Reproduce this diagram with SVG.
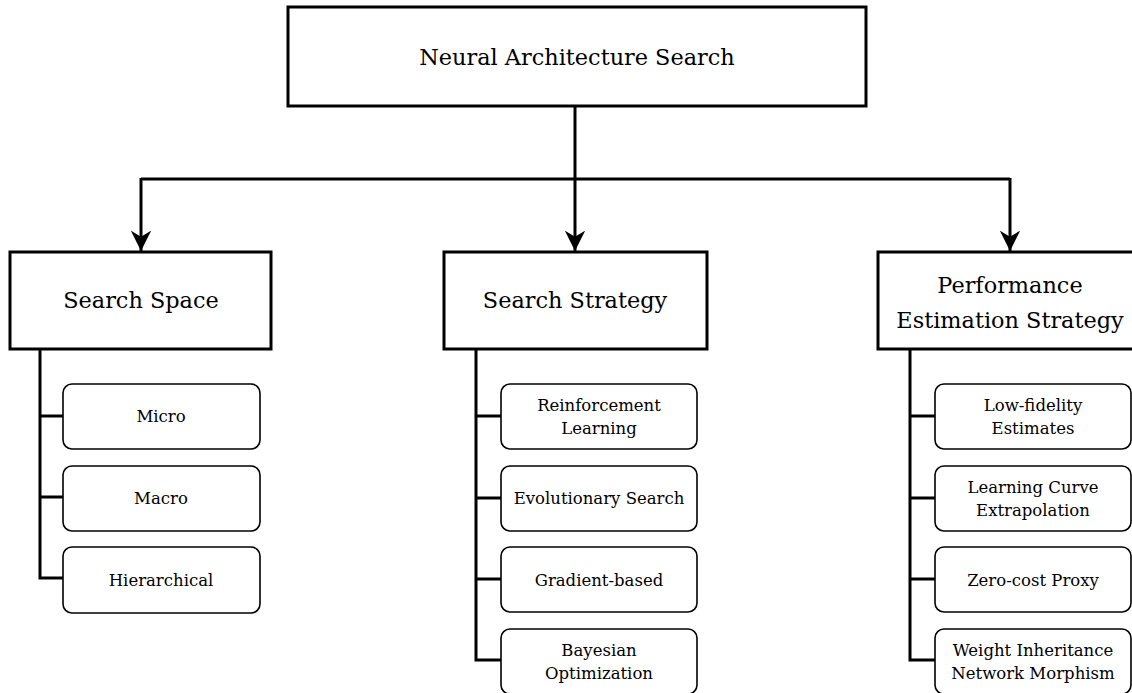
<svg xmlns="http://www.w3.org/2000/svg" width="1132" height="693" viewBox="0 0 1132 693">
<style>
.main{fill:#fff;stroke:#000;stroke-width:3}
.sub{fill:#fff;stroke:#000;stroke-width:1.6}
.conn{fill:none;stroke:#000;stroke-width:3}
text{font-family:"DejaVu Serif","Liberation Serif",serif;fill:#000;text-anchor:middle}
.t1{font-size:22.4px}
.t2{font-size:16.5px}
</style>
<defs>
<marker id="arr" viewBox="0 0 10 10" refX="10" refY="5" markerWidth="6.8" markerHeight="6.8" orient="auto" markerUnits="strokeWidth">
<path d="M0,0 L10,5 L0,10 L3,5 z" fill="#000"/>
</marker>
</defs>
<rect width="1132" height="693" fill="#fff"/>
<g id="connectors">
<path class="conn" d="M575,106 V179"/>
<path class="conn" d="M141,179 H1010"/>
<path class="conn" d="M141,178 V251" marker-end="url(#arr)"/>
<path class="conn" d="M575,179 V251" marker-end="url(#arr)"/>
<path class="conn" d="M1010,178 V251" marker-end="url(#arr)"/>
<path class="conn" d="M40,349 V578 H63 M40,416 H63 M40,497 H63"/>
<path class="conn" d="M476,349 V660 H501 M476,416 H501 M476,498 H501 M476,579 H501"/>
<path class="conn" d="M910,349 V660 H935 M910,416 H935 M910,498 H935 M910,579 H935"/>
</g>
<g id="nas">
<rect class="main" x="288" y="7" width="578" height="99"/>
<text class="t1" x="577" y="65">Neural Architecture Search</text>
</g>
<g id="search-space">
<rect class="main" x="10" y="252" width="261" height="97"/>
<text class="t1" x="141" y="308">Search Space</text>
</g>
<g id="search-strategy">
<rect class="main" x="444" y="252" width="263" height="97"/>
<text class="t1" x="575" y="308">Search Strategy</text>
</g>
<g id="performance">
<rect class="main" x="878" y="252" width="270" height="97"/>
<text class="t1" x="1010" y="293">Performance</text>
<text class="t1" x="1010" y="328">Estimation Strategy</text>
</g>
<g id="micro">
<rect class="sub" x="63" y="384" width="197" height="65" rx="9"/>
<text class="t2" x="161" y="422">Micro</text>
</g>
<g id="macro">
<rect class="sub" x="63" y="466" width="197" height="65" rx="9"/>
<text class="t2" x="161" y="504">Macro</text>
</g>
<g id="hierarchical">
<rect class="sub" x="63" y="547" width="197" height="66" rx="9"/>
<text class="t2" x="161" y="586">Hierarchical</text>
</g>
<g id="rl">
<rect class="sub" x="501" y="384" width="196" height="65" rx="9"/>
<text class="t2" x="599" y="411">Reinforcement</text>
<text class="t2" x="599" y="434">Learning</text>
</g>
<g id="evolutionary">
<rect class="sub" x="501" y="466" width="196" height="65" rx="9"/>
<text class="t2" x="599" y="504">Evolutionary Search</text>
</g>
<g id="gradient">
<rect class="sub" x="501" y="547" width="196" height="65" rx="9"/>
<text class="t2" x="599" y="586">Gradient-based</text>
</g>
<g id="bayesian">
<rect class="sub" x="501" y="629" width="196" height="65" rx="9"/>
<text class="t2" x="599" y="656">Bayesian</text>
<text class="t2" x="599" y="679">Optimization</text>
</g>
<g id="low-fidelity">
<rect class="sub" x="935" y="384" width="196" height="65" rx="9"/>
<text class="t2" x="1033" y="411">Low-fidelity</text>
<text class="t2" x="1033" y="434">Estimates</text>
</g>
<g id="learning-curve">
<rect class="sub" x="935" y="466" width="196" height="65" rx="9"/>
<text class="t2" x="1033" y="493">Learning Curve</text>
<text class="t2" x="1033" y="516">Extrapolation</text>
</g>
<g id="zero-cost">
<rect class="sub" x="935" y="547" width="196" height="65" rx="9"/>
<text class="t2" x="1033" y="586">Zero-cost Proxy</text>
</g>
<g id="weight-inheritance">
<rect class="sub" x="935" y="629" width="196" height="65" rx="9"/>
<text class="t2" x="1033" y="656">Weight Inheritance</text>
<text class="t2" x="1033" y="679">Network Morphism</text>
</g>
</svg>
